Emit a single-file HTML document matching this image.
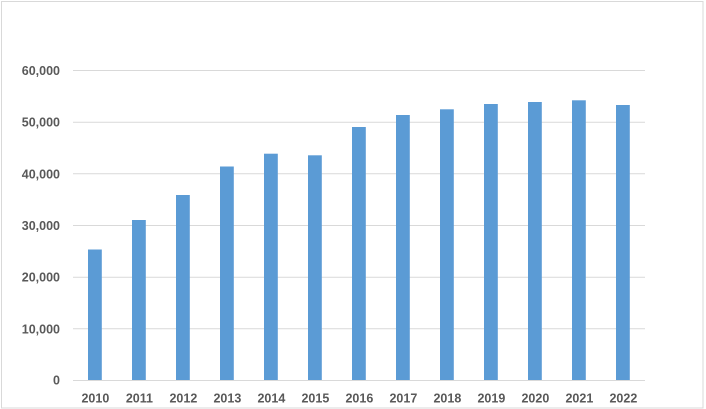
<!DOCTYPE html>
<html>
<head>
<meta charset="utf-8">
<style>
  html, body { margin: 0; padding: 0; background: #ffffff; }
  body { width: 706px; height: 409px; overflow: hidden; }
  svg { display: block; }
  text { font-family: "Liberation Sans", Arial, sans-serif; font-weight: bold; font-size: 12.5px; fill: #595959; }
</style>
</head>
<body>
<svg width="706" height="409" viewBox="0 0 706 409" xmlns="http://www.w3.org/2000/svg">
  <rect x="0" y="0" width="706" height="409" fill="#ffffff"/>
  <rect x="1.5" y="1.5" width="701.5" height="406.5" fill="none" stroke="#d9d9d9" stroke-width="1"/>

  <!-- gridlines -->
  <g stroke="#d9d9d9" stroke-width="1">
    <line x1="73" y1="70.5" x2="645" y2="70.5"/>
    <line x1="73" y1="122.2" x2="645" y2="122.2"/>
    <line x1="73" y1="173.8" x2="645" y2="173.8"/>
    <line x1="73" y1="225.5" x2="645" y2="225.5"/>
    <line x1="73" y1="277.2" x2="645" y2="277.2"/>
    <line x1="73" y1="328.8" x2="645" y2="328.8"/>
    <line x1="73" y1="380.5" x2="645" y2="380.5"/>
  </g>

  <!-- y labels -->
  <g text-anchor="end">
    <text x="60" y="75">60,000</text>
    <text x="60" y="126.7">50,000</text>
    <text x="60" y="178.3">40,000</text>
    <text x="60" y="230">30,000</text>
    <text x="60" y="281.7">20,000</text>
    <text x="60" y="333.3">10,000</text>
    <text x="60" y="384.5">0</text>
  </g>

  <!-- bars -->
  <g fill="#5b9bd5">
    <rect x="88" y="249.5" width="13.8" height="130.5"/>
    <rect x="132" y="220" width="13.8" height="160"/>
    <rect x="176" y="195" width="13.8" height="185"/>
    <rect x="220" y="166.5" width="13.8" height="213.5"/>
    <rect x="264" y="153.7" width="13.8" height="226.3"/>
    <rect x="308" y="155.3" width="13.8" height="224.7"/>
    <rect x="352" y="127" width="13.8" height="253"/>
    <rect x="396" y="115" width="13.8" height="265"/>
    <rect x="440" y="109.3" width="13.8" height="270.7"/>
    <rect x="484" y="104" width="13.8" height="276"/>
    <rect x="528" y="102" width="13.8" height="278"/>
    <rect x="572" y="100.3" width="13.8" height="279.7"/>
    <rect x="616" y="105" width="13.8" height="275"/>
  </g>

  <!-- x labels -->
  <g text-anchor="middle">
    <text x="95.4" y="402.3">2010</text>
    <text x="139.4" y="402.3">2011</text>
    <text x="183.4" y="402.3">2012</text>
    <text x="227.4" y="402.3">2013</text>
    <text x="271.4" y="402.3">2014</text>
    <text x="315.4" y="402.3">2015</text>
    <text x="359.4" y="402.3">2016</text>
    <text x="403.4" y="402.3">2017</text>
    <text x="447.4" y="402.3">2018</text>
    <text x="491.4" y="402.3">2019</text>
    <text x="535.4" y="402.3">2020</text>
    <text x="579.4" y="402.3">2021</text>
    <text x="623.4" y="402.3">2022</text>
  </g>
</svg>
</body>
</html>
